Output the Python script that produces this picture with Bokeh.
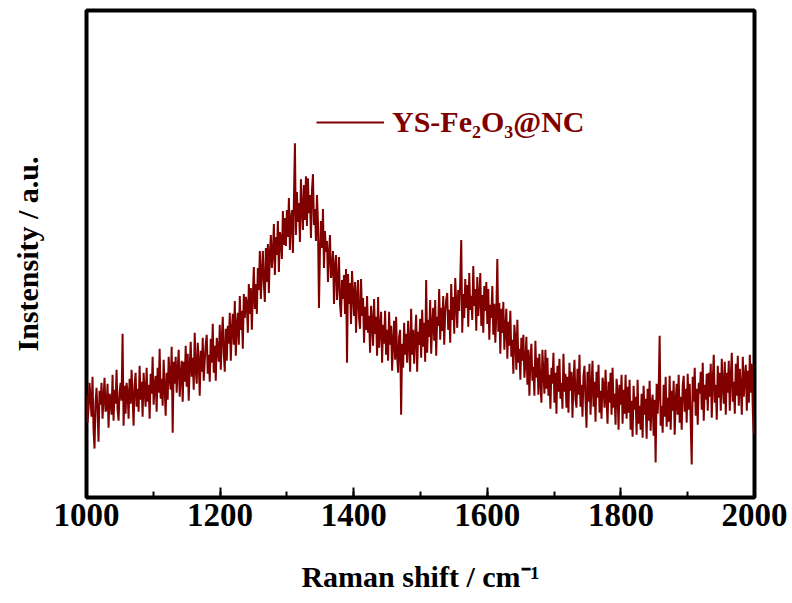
import numpy as np
from bokeh.plotting import figure
from bokeh.models import Range1d, SingleIntervalTicker, FixedTicker, Legend, LegendItem
from bokeh.embed import file_html
from bokeh.resources import INLINE

# Raman shift grid (cm^-1): start, step
shift_start = 1000
shift_step = 1.5

# Intensity (a.u.), one value per grid step
intensity = [
    103, 75, 89, 115, 99, 81, 121, 69, 49, 95, 110, 86, 56, 107, 93, 115, 79, 99, 120, 86,
    90, 114, 70, 104, 99, 83, 123, 77, 108, 94, 128, 88, 77, 105, 115, 97, 164, 72, 112, 84,
    115, 105, 79, 119, 94, 128, 100, 72, 113, 125, 91, 109, 86, 132, 98, 116, 81, 125, 107, 91,
    130, 96, 113, 79, 124, 104, 141, 93, 111, 122, 86, 130, 105, 149, 99, 119, 92, 138, 110, 82,
    125, 98, 141, 120, 108, 151, 65, 136, 114, 141, 105, 128, 148, 101, 123, 137, 96, 136, 116, 152,
    111, 144, 97, 131, 156, 121, 140, 108, 165, 128, 114, 155, 136, 102, 147, 126, 160, 117, 137, 154,
    163, 124, 143, 116, 159, 135, 174, 125, 152, 117, 160, 149, 136, 173, 128, 160, 181, 144, 126, 169,
    137, 172, 154, 185, 137, 168, 184, 153, 197, 142, 172, 185, 153, 202, 168, 187, 149, 204, 180, 201,
    195, 165, 214, 184, 210, 168, 203, 231, 189, 214, 184, 230, 208, 247, 199, 225, 247, 214, 196, 250,
    216, 254, 205, 245, 263, 230, 244, 274, 223, 261, 243, 277, 226, 266, 260, 239, 287, 253, 280, 252,
    288, 261, 300, 248, 279, 288, 245, 299, 355, 263, 306, 276, 295, 256, 319, 289, 268, 313, 278, 322,
    272, 320, 285, 303, 260, 307, 324, 273, 289, 257, 303, 276, 190, 248, 277, 250, 289, 230, 267, 246,
    257, 216, 244, 263, 220, 226, 247, 194, 232, 243, 198, 216, 241, 194, 181, 218, 199, 223, 184, 229,
    135, 224, 194, 215, 174, 227, 203, 182, 216, 165, 201, 218, 180, 169, 219, 182, 200, 155, 191, 168,
    202, 165, 182, 145, 192, 175, 152, 199, 164, 181, 142, 201, 150, 169, 186, 135, 173, 154, 187, 143,
    168, 137, 186, 153, 172, 127, 156, 177, 138, 181, 142, 125, 161, 168, 83, 154, 130, 175, 143, 164,
    135, 177, 154, 126, 189, 143, 168, 134, 161, 183, 126, 166, 153, 179, 140, 188, 151, 175, 136, 218,
    145, 178, 161, 198, 144, 173, 190, 157, 198, 142, 181, 172, 209, 158, 190, 167, 202, 153, 186, 198,
    205, 168, 188, 155, 214, 178, 201, 164, 220, 195, 170, 208, 187, 218, 258, 165, 204, 180, 219, 190,
    213, 171, 225, 188, 202, 178, 232, 192, 209, 167, 221, 182, 198, 225, 172, 203, 165, 212, 187, 216,
    174, 209, 158, 193, 180, 212, 163, 194, 155, 184, 239, 166, 195, 144, 189, 165, 196, 148, 169, 189,
    139, 176, 152, 187, 141, 158, 124, 173, 159, 128, 178, 135, 149, 118, 160, 137, 163, 120, 134, 161,
    113, 148, 102, 139, 154, 117, 131, 102, 157, 120, 140, 103, 144, 115, 95, 148, 125, 104, 148, 109,
    140, 102, 123, 89, 130, 114, 145, 95, 125, 84, 132, 106, 139, 99, 115, 89, 144, 106, 124, 90,
    121, 85, 135, 107, 126, 80, 116, 138, 98, 90, 129, 103, 143, 91, 113, 81, 122, 132, 98, 70,
    126, 96, 134, 83, 111, 137, 91, 116, 76, 126, 100, 133, 85, 107, 79, 120, 112, 90, 128, 99,
    74, 116, 95, 125, 83, 130, 90, 104, 73, 119, 106, 68, 113, 93, 123, 74, 108, 84, 123, 79,
    111, 85, 118, 68, 97, 61, 112, 88, 101, 63, 118, 74, 92, 68, 104, 60, 112, 83, 99, 59,
    109, 77, 117, 67, 93, 103, 62, 98, 35, 114, 84, 106, 162, 72, 92, 65, 113, 81, 121, 71,
    100, 76, 122, 68, 107, 87, 117, 63, 96, 114, 83, 123, 75, 101, 68, 112, 122, 86, 109, 75,
    124, 88, 114, 75, 33, 121, 96, 130, 82, 109, 73, 115, 104, 126, 88, 135, 77, 113, 98, 124,
    87, 125, 101, 134, 80, 118, 143, 95, 113, 78, 132, 100, 125, 87, 139, 112, 94, 136, 83, 125,
    105, 137, 87, 121, 145, 96, 116, 84, 134, 102, 142, 92, 129, 111, 83, 141, 101, 121, 133, 87,
    127, 95, 143, 105, 134, 86, 64,
]
raman_shift = shift_start + shift_step * np.arange(len(intensity))

series_name = "YS-Fe\u2082O\u2083@NC"
x_ticks_interval = 200
line_color = "#800000"

p = figure(width=790, height=600, output_backend="svg", toolbar_location=None,
           x_range=Range1d(1000, 2000), y_range=Range1d(0, 488),
           min_border_left=86, min_border_right=36, min_border_top=10, min_border_bottom=103)
p.background_fill_color = "white"
p.border_fill_color = "white"
p.grid.visible = False
p.outline_line_color = "black"
p.outline_line_width = 4

r = p.line(raman_shift, intensity, line_color=line_color, line_width=2)

xa = p.xaxis[0]
xa.ticker = SingleIntervalTicker(interval=x_ticks_interval, num_minor_ticks=2)
xa.major_tick_in = 10
xa.major_tick_out = 0
xa.minor_tick_in = 6
xa.minor_tick_out = 0
xa.major_tick_line_width = 2
xa.minor_tick_line_width = 2
xa.axis_line_color = None
xa.major_label_standoff = 6
xa.major_label_text_font = "Liberation Sans Narrow"
xa.major_label_text_font_style = "bold"
xa.major_label_text_font_size = "33px"
xa.major_label_text_color = "black"
xa.axis_label = "Raman shift / cm\u207b\u00b9"
xa.axis_label_text_font = "Liberation Serif"
xa.axis_label_text_font_style = "bold"
xa.axis_label_text_font_size = "30px"
xa.axis_label_text_color = "black"
xa.axis_label_standoff = 31

ya = p.yaxis[0]
ya.ticker = FixedTicker(ticks=[])
ya.major_tick_in = 0
ya.major_tick_out = 0
ya.minor_tick_in = 0
ya.minor_tick_out = 0
ya.axis_line_color = None
ya.axis_label = "Instensity / a.u."
ya.axis_label_text_font = "Liberation Serif"
ya.axis_label_text_font_style = "bold"
ya.axis_label_text_font_size = "30px"
ya.axis_label_text_color = "black"
ya.axis_label_standoff = 43

legend = Legend(items=[LegendItem(label=series_name, renderers=[r])],
                location=(230, 358), glyph_width=68, glyph_height=20,
                label_standoff=8, padding=0, margin=0,
                border_line_color=None, background_fill_alpha=0,
                label_text_font="Liberation Serif", label_text_font_style="bold",
                label_text_font_size="30px", label_text_color=line_color)
p.add_layout(legend, "center")

open("out.html", "w").write(file_html(p, INLINE))
